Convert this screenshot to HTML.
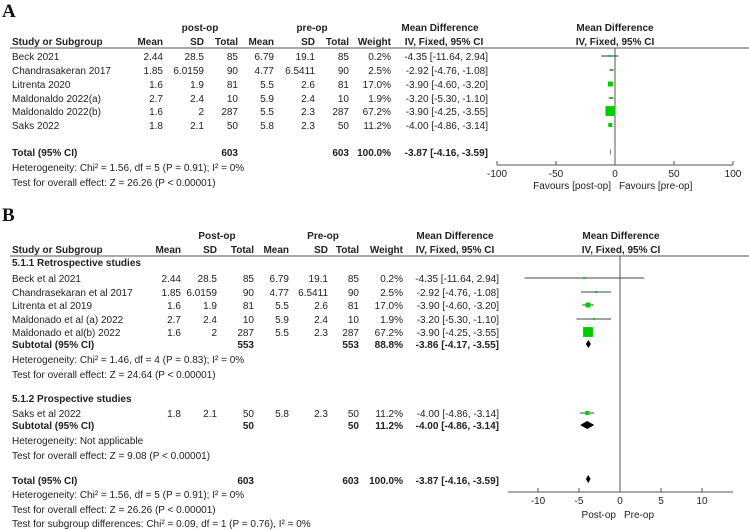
<!DOCTYPE html>
<html><head><meta charset="utf-8"><style>
html,body{margin:0;padding:0;background:#fff;}
svg{display:block;font-family:"Liberation Sans",Arial,sans-serif;font-size:10px;fill:#222;}
.b{font-weight:bold;}
.big{font-family:"Liberation Serif",serif;font-size:19px;font-weight:bold;fill:#111;}
</style></head><body>
<svg id="chart" width="749" height="530" viewBox="0 0 749 530"></svg>
<script>
// ---- data ----
const studiesA = ["Beck 2021","Chandrasakeran 2017","Litrenta 2020","Maldonaldo 2022(a)","Maldonaldo 2022(b)","Saks 2022"];
const studiesB = ["Beck et al 2021","Chandrasekaran et al 2017","Litrenta et al 2019","Maldonado et al (a) 2022","Maldonado et al(b)  2022","Saks et al 2022"];
const postMean = ["2.44","1.85","1.6","2.7","1.6","1.8"];
const postSD = ["28.5","6.0159","1.9","2.4","2","2.1"];
const postN = ["85","90","81","10","287","50"];
const preMean = ["6.79","4.77","5.5","5.9","5.5","5.8"];
const preSD = ["19.1","6.5411","2.6","2.4","2.3","2.3"];
const preN = ["85","90","81","10","287","50"];
const weights = [0.2,2.5,17.0,1.9,67.2,11.2];
const md = [-4.35,-2.92,-3.90,-3.20,-3.90,-4.00];
const lo = [-11.64,-4.76,-4.60,-5.30,-4.25,-4.86];
const hi = [2.94,-1.08,-3.20,-1.10,-3.55,-3.14];
const subMd = [-3.86,-4.00];
const subLo = [-4.17,-4.86];
const subHi = [-3.55,-3.14];
const totMd = -3.87, totLo = -4.16, totHi = -3.59;
const ticksA = [-100,-50,0,50,100];
const ticksB = [-10,-5,0,5,10];

const svg = document.getElementById('chart');
const NS = "http://www.w3.org/2000/svg";
function mk(tag, attrs, parent){const e=document.createElementNS(NS,tag);for(const k in attrs)e.setAttribute(k,attrs[k]);(parent||svg).appendChild(e);return e;}
function txt(x,y,s,name,anchor,cls){const t=mk('text',{x:x,y:y});if(anchor)t.setAttribute('text-anchor',anchor);if(cls)t.setAttribute('class',cls);t.textContent=s;


return t;}
function line(x1,y1,x2,y2,name,col,w){const l=mk('line',{x1:x1,y1:y1,x2:x2,y2:y2,stroke:col||'#555','stroke-width':w||1});


return l;}
const fmt = v => v.toFixed(2);
function ciStr(i){return fmt(md[i])+" ["+fmt(lo[i])+", "+fmt(hi[i])+"]";}

// ================= Panel A =================
const xA = v => 615 + v*(733-615)/100;
txt(2,17,"A","panel-a-label",null,"big");
txt(200,31,"post-op","a-post-op-header","middle","b");
txt(312,31,"pre-op","a-pre-op-header","middle","b");
txt(440,31,"Mean Difference","a-md-header","middle","b");
txt(615,31,"Mean Difference","a-md-plot-header","middle","b");
const hA=45;
txt(12,hA,"Study or Subgroup","a-study-header",null,"b");
[["Mean",163],["SD",204],["Total",238],["Mean",274],["SD",315],["Total",349],["Weight",391]].forEach(c=>txt(c[1],hA,c[0],"a-col-header","end","b"));
txt(444,hA,"IV, Fixed, 95% CI","a-ci-header","middle","b");
txt(615,hA,"IV, Fixed, 95% CI","a-ci-plot-header","middle","b");
line(10,48,749,48,"a-header-rule","#555",1);
line(xA(0),48,xA(0),165,"a-zero-line","#555",1);
const rowsA=[60,74,88,102,115,129];
studiesA.forEach((s,i)=>{
  const y=rowsA[i];
  txt(12,y,s,"a-study-name");
  txt(163,y,postMean[i],"a-post-mean","end");txt(204,y,postSD[i],"a-post-sd","end");txt(238,y,postN[i],"a-post-total","end");
  txt(274,y,preMean[i],"a-pre-mean","end");txt(315,y,preSD[i],"a-pre-sd","end");txt(349,y,preN[i],"a-pre-total","end");
  txt(391,y,weights[i].toFixed(1)+"%","a-weight","end");
  txt(488,y,ciStr(i),"a-ci-text","end");
  const cy=y-4;
  line(xA(lo[i]),cy,xA(hi[i]),cy,"a-ci-whisker","#333",1);
  const sz=Math.max(2,12*Math.sqrt(weights[i]/100));
  const r=mk('rect',{x:xA(md[i])-sz/2,y:cy-sz/2,width:sz,height:sz,fill:'#0c0'});
  
  
});
txt(12,156,"Total (95% CI)","a-total-label",null,"b");
txt(238,156,"603","a-total-post","end","b");txt(349,156,"603","a-total-pre","end","b");
txt(391,156,"100.0%","a-total-weight","end","b");
txt(488,156,fmt(totMd)+" ["+fmt(totLo)+", "+fmt(totHi)+"]","a-total-ci","end","b");
{const cy=152;const d=mk('polygon',{points:`${xA(totLo)},${cy} ${xA(totMd)},${cy-4} ${xA(totHi)},${cy} ${xA(totMd)},${cy+4}`,fill:'#000'});

}
txt(12,171,"Heterogeneity: Chi² = 1.56, df = 5 (P = 0.91); I² = 0%","a-heterogeneity");
txt(12,186,"Test for overall effect: Z = 26.26 (P < 0.00001)","a-overall-effect");
line(xA(-100),165,xA(100),165,"a-x-axis","#555",1);
ticksA.forEach(t=>{line(xA(t),161,xA(t),165,"a-x-tick","#555",1);txt(xA(t),177,String(t),"a-x-tick-label","middle");});
txt(xA(0)-4,189,"Favours [post-op]","a-favours-post","end");
txt(xA(0)+4,189,"Favours [pre-op]","a-favours-pre");

// ================= Panel B =================
const xB = v => 620 + v*(702-620)/10;
txt(2,221,"B","panel-b-label",null,"big");
txt(217,239,"Post-op","b-post-op-header","middle","b");
txt(323,239,"Pre-op","b-pre-op-header","middle","b");
txt(455,239,"Mean Difference","b-md-header","middle","b");
txt(621,239,"Mean Difference","b-md-plot-header","middle","b");
const hB=253;
txt(12,hB,"Study or Subgroup","b-study-header",null,"b");
[["Mean",181],["SD",217],["Total",254],["Mean",289],["SD",328],["Total",359],["Weight",403]].forEach(c=>txt(c[1],hB,c[0],"b-col-header","end","b"));
txt(455,hB,"IV, Fixed, 95% CI","b-ci-header","middle","b");
txt(621,hB,"IV, Fixed, 95% CI","b-ci-plot-header","middle","b");
line(10,256,749,256,"b-header-rule","#555",1);
line(xB(0),256,xB(0),492,"b-zero-line","#555",1);
txt(12,266,"5.1.1 Retrospective studies","b-subgroup-1-title",null,"b");
const rowsB=[282,296,309,323,336,417];
studiesB.forEach((s,i)=>{
  const y=rowsB[i];
  txt(12,y,s,"b-study-name");
  txt(181,y,postMean[i],"b-post-mean","end");txt(217,y,postSD[i],"b-post-sd","end");txt(254,y,postN[i],"b-post-total","end");
  txt(289,y,preMean[i],"b-pre-mean","end");txt(328,y,preSD[i],"b-pre-sd","end");txt(359,y,preN[i],"b-pre-total","end");
  txt(403,y,weights[i].toFixed(1)+"%","b-weight","end");
  txt(499,y,ciStr(i),"b-ci-text","end");
  const cy=y-4;
  line(xB(lo[i]),cy,xB(hi[i]),cy,"b-ci-whisker","#444",1);
  const sz=Math.max(2,12*Math.sqrt(weights[i]/100));
  const r=mk('rect',{x:xB(md[i])-sz/2,y:cy-sz/2,width:sz,height:sz,fill:'#0c0'});
  
  
});
function diamondB(m,l,h,cy,hh,name){const d=mk('polygon',{points:`${xB(l)},${cy} ${xB(m)},${cy-hh} ${xB(h)},${cy} ${xB(m)},${cy+hh}`,fill:'#000'});

}
txt(12,348,"Subtotal (95% CI)","b-subtotal-1-label",null,"b");
txt(254,348,"553","b-subtotal-1-post","end","b");txt(359,348,"553","b-subtotal-1-pre","end","b");
txt(403,348,"88.8%","b-subtotal-1-weight","end","b");
txt(499,348,fmt(subMd[0])+" ["+fmt(subLo[0])+", "+fmt(subHi[0])+"]","b-subtotal-1-ci","end","b");
diamondB(subMd[0],subLo[0],subHi[0],344,4,"b-subtotal-1-diamond");
txt(12,363,"Heterogeneity: Chi² = 1.46, df = 4 (P = 0.83); I² = 0%","b-subtotal-1-heterogeneity");
txt(12,378,"Test for overall effect: Z = 24.64 (P < 0.00001)","b-subtotal-1-effect");
txt(12,402,"5.1.2 Prospective studies","b-subgroup-2-title",null,"b");
txt(12,429,"Subtotal (95% CI)","b-subtotal-2-label",null,"b");
txt(254,429,"50","b-subtotal-2-post","end","b");txt(359,429,"50","b-subtotal-2-pre","end","b");
txt(403,429,"11.2%","b-subtotal-2-weight","end","b");
txt(499,429,fmt(subMd[1])+" ["+fmt(subLo[1])+", "+fmt(subHi[1])+"]","b-subtotal-2-ci","end","b");
diamondB(subMd[1],subLo[1],subHi[1],425,4,"b-subtotal-2-diamond");
txt(12,444,"Heterogeneity: Not applicable","b-subtotal-2-heterogeneity");
txt(12,459,"Test for overall effect: Z = 9.08 (P < 0.00001)","b-subtotal-2-effect");
txt(12,484,"Total (95% CI)","b-total-label",null,"b");
txt(254,484,"603","b-total-post","end","b");txt(359,484,"603","b-total-pre","end","b");
txt(403,484,"100.0%","b-total-weight","end","b");
txt(499,484,fmt(totMd)+" ["+fmt(totLo)+", "+fmt(totHi)+"]","b-total-ci","end","b");
diamondB(totMd,totLo,totHi,479,4,"b-total-diamond");
txt(12,498,"Heterogeneity: Chi² = 1.56, df = 5 (P = 0.91); I² = 0%","b-total-heterogeneity");
txt(12,513,"Test for overall effect: Z = 26.26 (P < 0.00001)","b-total-effect");
txt(12,527,"Test for subgroup differences: Chi² = 0.09, df = 1 (P = 0.76), I² = 0%","b-subgroup-differences");
line(508,492,733,492,"b-x-axis","#555",1);
ticksB.forEach(t=>{line(xB(t),488,xB(t),492,"b-x-tick","#555",1);txt(xB(t),504,String(t),"b-x-tick-label","middle");});
txt(xB(0)-4,518,"Post-op","b-favours-post","end");
txt(xB(0)+4,518,"Pre-op","b-favours-pre");
</script>
</body></html>
